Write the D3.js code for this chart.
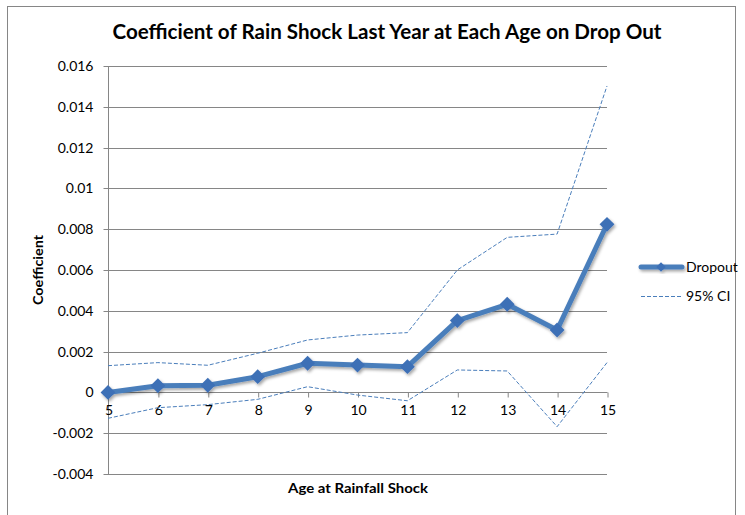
<!DOCTYPE html>
<html>
<head>
<meta charset="utf-8">
<script src="https://cdn.jsdelivr.net/npm/d3@7"></script>
<style>
  body { margin: 0; background: #fff; }
  text { font-family: Lato, "Open Sans", sans-serif; fill: #000; }
</style>
</head>
<body>
<div id="chart"></div>
<script>
// ages on the x axis
ages = [5, 6, 7, 8, 9, 10, 11, 12, 13, 14, 15];

// coefficient estimates
dropout = [0, 0.00033, 0.00035, 0.00077, 0.00143, 0.00134, 0.00126, 0.00352, 0.00432, 0.00306, 0.00824];
upperCI = [0.00131, 0.00146, 0.00133, 0.00192, 0.00257, 0.00281, 0.00293, 0.0060, 0.0076, 0.00776, 0.01502];
lowerCI = [-0.00127, -0.00075, -0.0006, -0.00034, 0.00028, -0.00013, -0.00041, 0.0011, 0.00105, -0.00168, 0.00146];

yTicks = [-0.004, -0.002, 0, 0.002, 0.004, 0.006, 0.008, 0.01, 0.012, 0.014, 0.016];

// note: "top" is taken by window.top, so plot edges get their own names
var width = 745, height = 515;
var plotLeft = 108, plotRight = 607, plotTop = 66, plotBottom = 474;
var gridColor = "#868686";
var blue = "#4a7ebb";

var svg = d3.select("#chart")
    .append("svg")
    .attr("width", width)
    .attr("height", height);

var defs = svg.append("defs");
var shadow = defs.append("filter")
    .attr("id", "shadow")
    .attr("x", "-20%").attr("y", "-20%")
    .attr("width", "140%").attr("height", "140%");
shadow.append("feDropShadow")
    .attr("dx", 1.5)
    .attr("dy", 2)
    .attr("stdDeviation", 1.5)
    .attr("flood-color", "#000")
    .attr("flood-opacity", 0.35);

// chart frame
svg.append("rect")
    .attr("x", 7.5).attr("y", 6.5)
    .attr("width", 728).attr("height", 520)
    .attr("fill", "none")
    .attr("stroke", gridColor)
    .attr("stroke-width", 1);

var x = d3.scaleLinear().domain([5, 15]).range([plotLeft, plotRight]);
var y = d3.scaleLinear().domain([-0.004, 0.016]).range([plotBottom, plotTop]);

// horizontal gridlines
svg.append("g")
    .selectAll("line")
    .data(yTicks)
    .enter()
    .append("line")
    .attr("x1", plotLeft).attr("x2", plotRight)
    .attr("y1", function (d) { return Math.round(y(d)) + 0.5; })
    .attr("y2", function (d) { return Math.round(y(d)) + 0.5; })
    .attr("stroke", gridColor);

// y axis
var yAxis = svg.append("g")
    .attr("transform", "translate(" + (plotLeft + 0.5) + ",0)")
    .call(d3.axisLeft(y)
        .tickValues(yTicks)
        .tickSize(5)
        .tickPadding(10)
        .tickFormat(function (d) { return String(+d.toFixed(3)); }));
yAxis.select(".domain").attr("stroke", gridColor).attr("d", "M0," + y(0.016) + "V" + y(-0.004));
yAxis.selectAll(".tick").attr("transform", function (d) { return "translate(0," + (Math.round(y(d)) + 0.5) + ")"; });
yAxis.selectAll(".tick line").attr("stroke", gridColor);
yAxis.selectAll("text")
    .style("font-size", "14px")
    .style("font-family", "Lato, sans-serif")
    .attr("fill", "#000")
    .attr("x", -15);

// x axis, crossing at zero
var xAxis = svg.append("g")
    .attr("transform", "translate(0.5," + (Math.round(y(0)) + 0.5) + ")")
    .call(d3.axisBottom(x)
        .tickValues(ages)
        .tickSize(5)
        .tickPadding(8)
        .tickFormat(d3.format("d")));
xAxis.select(".domain").attr("stroke", gridColor).attr("d", "M" + plotLeft + ",0H" + plotRight);
xAxis.selectAll(".tick line").attr("stroke", gridColor);
xAxis.selectAll("text")
    .style("font-size", "14px")
    .style("font-family", "Lato, sans-serif")
    .attr("fill", "#000");

// confidence interval lines
var line = d3.line()
    .x(function (d, i) { return x(ages[i]); })
    .y(function (d) { return y(d); });

[upperCI, lowerCI].forEach(function (series) {
    svg.append("path")
        .datum(series)
        .attr("d", line)
        .attr("fill", "none")
        .attr("stroke", blue)
        .attr("stroke-width", 1)
        .attr("stroke-dasharray", "4,2");
});

// dropout line with diamond markers (a square turned 45 degrees)
var diamond = d3.symbol().type(d3.symbolSquare).size(110);

var dropGroup = svg.append("g").attr("filter", "url(#shadow)");
dropGroup.append("path")
    .datum(dropout)
    .attr("d", line)
    .attr("fill", "none")
    .attr("stroke", blue)
    .attr("stroke-width", 5)
    .attr("stroke-linejoin", "round");

dropGroup.selectAll(".marker")
    .data(dropout)
    .enter()
    .append("path")
    .attr("class", "marker")
    .attr("d", diamond)
    .attr("transform", function (d, i) {
        return "translate(" + x(ages[i]) + "," + y(d) + ") rotate(45)";
    })
    .attr("fill", "#3d6fb6");

// titles
svg.append("text")
    .attr("x", 387).attr("y", 39)
    .attr("text-anchor", "middle")
    .attr("textLength", 549)
    .attr("lengthAdjust", "spacingAndGlyphs")
    .style("font-size", "20px")
    .style("font-weight", "bold")
    .text("Coefficient of Rain Shock Last Year at Each Age on Drop Out");

svg.append("text")
    .attr("x", 358).attr("y", 493)
    .attr("text-anchor", "middle")
    .attr("textLength", 140)
    .attr("lengthAdjust", "spacingAndGlyphs")
    .style("font-size", "14px")
    .style("font-weight", "bold")
    .text("Age at Rainfall Shock");

svg.append("text")
    .attr("transform", "translate(43,270) rotate(-90)")
    .attr("text-anchor", "middle")
    .attr("textLength", 70)
    .attr("lengthAdjust", "spacingAndGlyphs")
    .style("font-size", "14px")
    .style("font-weight", "bold")
    .text("Coefficient");

// legend
var legend = svg.append("g");
var legendDrop = legend.append("g").attr("filter", "url(#shadow)");
legendDrop.append("line")
    .attr("x1", 641).attr("x2", 682)
    .attr("y1", 267).attr("y2", 267)
    .attr("stroke", blue)
    .attr("stroke-width", 5)
    .attr("stroke-linecap", "round");
legendDrop.append("path")
    .attr("d", d3.symbol().type(d3.symbolSquare).size(45))
    .attr("transform", "translate(661,267) rotate(45)")
    .attr("fill", "#3d6fb6");
legend.append("text")
    .attr("x", 686).attr("y", 272)
    .style("font-size", "14px")
    .text("Dropout");

legend.append("line")
    .attr("x1", 641).attr("x2", 682)
    .attr("y1", 296.5).attr("y2", 296.5)
    .attr("stroke", blue)
    .attr("stroke-width", 1)
    .attr("stroke-dasharray", "4,2");
legend.append("text")
    .attr("x", 686).attr("y", 301)
    .style("font-size", "14px")
    .text("95% CI");
</script>
</body>
</html>
